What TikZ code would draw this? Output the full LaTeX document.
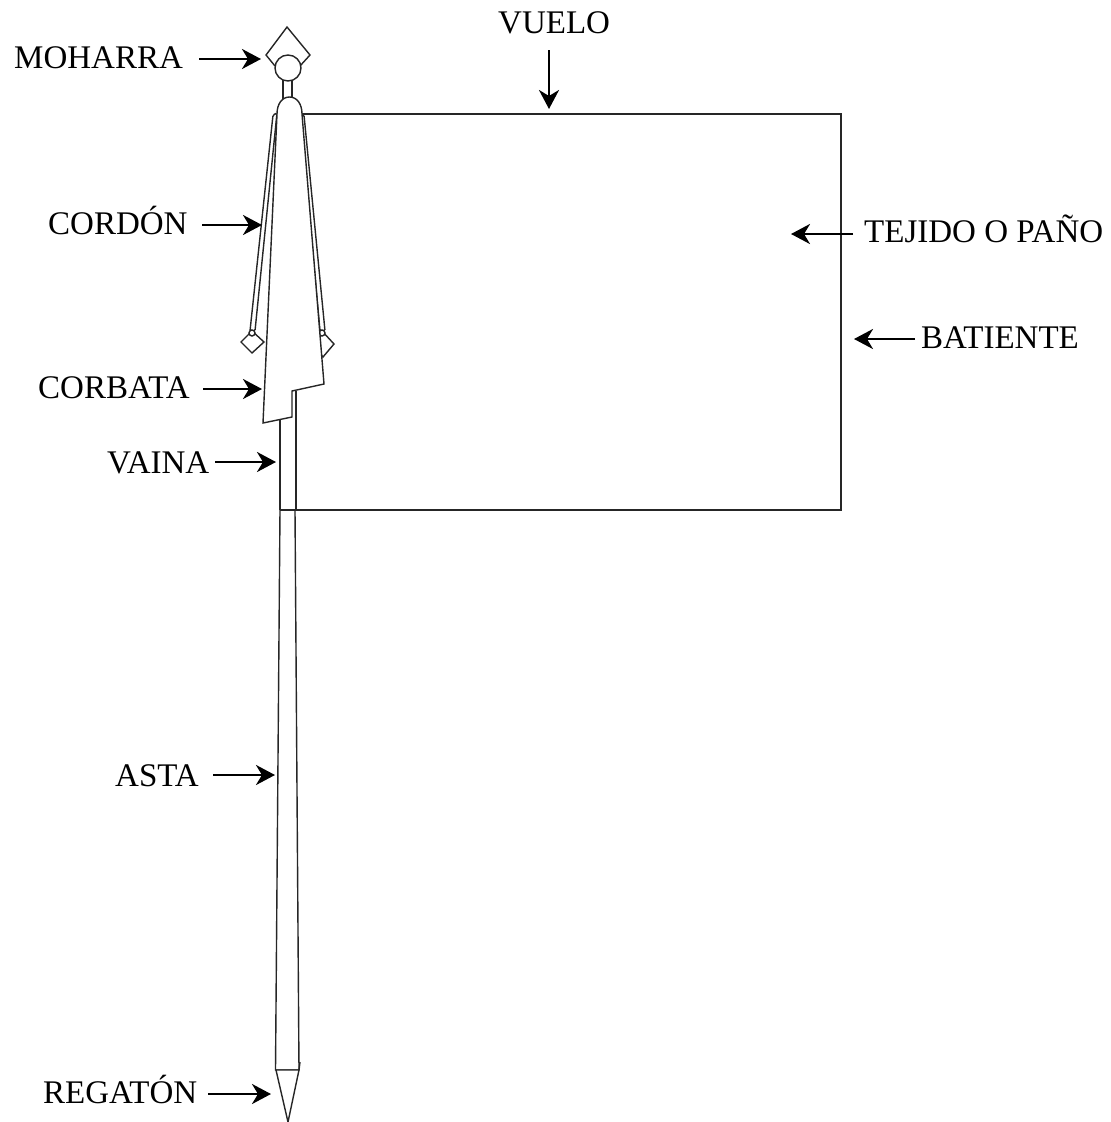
\documentclass[tikz,border=0pt]{standalone}
\usepackage{fontspec}
\setmainfont{Liberation Serif}
\usetikzlibrary{arrows.meta}
\tikzset{
  x=1pt,y=-1pt,
  part/.style={draw=black!85,line width=1.4pt,line join=miter,fill=white},
  edge/.style={draw=black!85,line width=1.4pt},
  partname/.style={anchor=base west,inner sep=0pt,font=\fontsize{33}{33}\selectfont,text=black},
  pointer/.style={draw=black,line width=2.8pt,-{Stealth[length=19pt,width=20pt,inset=6pt]},shorten >=-1pt}
}
\begin{document}
\begin{tikzpicture}
\useasboundingbox (0,0) rectangle (1111,1122);
% asta
\draw[part] (280,510) -- (275.5,1070) -- (299,1070) -- (295,510);
\draw[edge] (299,1070) -- (300,1062);
\draw[part] (276,1070) -- (288,1122) -- (299,1070) -- cycle;
% flag cloth and vaina
\draw[edge] (302,114) -- (841,114) -- (841,510) -- (280,510);
\draw[edge] (280,415) -- (280,510);
\draw[edge] (296,391) -- (296,510);
% moharra
\draw[part] (275,66) -- (266,55) -- (287,27) -- (310,55) -- (300,66);
\draw[part] (283,78) rectangle (292,100);
\node[circle,part,minimum size=26pt,inner sep=0pt] (ball) at (288,68) {};
% right tassel
\draw[part] (322,331) -- (334,344) -- (323,357) -- (311,344) -- cycle;
% left tassel
\draw[part] (252,331) -- (264,342) -- (252,353) -- (241,342) -- cycle;
% cords
\draw[part,rounded corners=1.5pt] (273,115) -- (250,331) -- (255,331) -- (277,113) -- cycle;
\draw[part,rounded corners=1.5pt] (300,113) -- (320,331) -- (325,331) -- (304,115) -- cycle;
\node[circle,part,minimum size=6pt,inner sep=0pt] (knotl) at (252,333) {};
\node[circle,part,minimum size=6pt,inner sep=0pt] (knotr) at (322,333) {};
% corbata
\draw[part] (277,114) .. controls (277,104) and (282,97) .. (289.5,97)
  .. controls (297,97) and (302,104) .. (302,114)
  -- (324,384) -- (292,391) -- (292,417) -- (263,423) -- cycle;
% labels
\node[partname] (moharra) at (14,68) {MOHARRA};
\node[partname] (vuelo) at (498,33) {VUELO};
\node[partname] (cordon) at (48,234) {CORDÓN};
\node[partname] (corbata) at (38,398) {CORBATA};
\node[partname] (vaina) at (107,473) {VAINA};
\node[partname] (asta) at (115,786) {ASTA};
\node[partname] (regaton) at (43,1103) {REGATÓN};
\node[partname] (tejido) at (864,242) {TEJIDO O PAÑO};
\node[partname] (batiente) at (921,348) {BATIENTE};
% pointer ends
\coordinate (a1) at (199,59); \coordinate (b1) at (260,59);
\coordinate (a2) at (549,50); \coordinate (b2) at (549,108);
\coordinate (a3) at (202,225); \coordinate (b3) at (261,225);
\coordinate (a4) at (203,389); \coordinate (b4) at (261,389);
\coordinate (a5) at (215,462); \coordinate (b5) at (275,462);
\coordinate (a6) at (213,775); \coordinate (b6) at (274,775);
\coordinate (a7) at (208,1094); \coordinate (b7) at (270,1094);
\coordinate (a8) at (853,234); \coordinate (b8) at (792,234);
\coordinate (a9) at (915,339); \coordinate (b9) at (855,339);
\foreach \i in {1,...,9} {\draw[pointer] (a\i) -- (b\i);}
\end{tikzpicture}
\end{document}
